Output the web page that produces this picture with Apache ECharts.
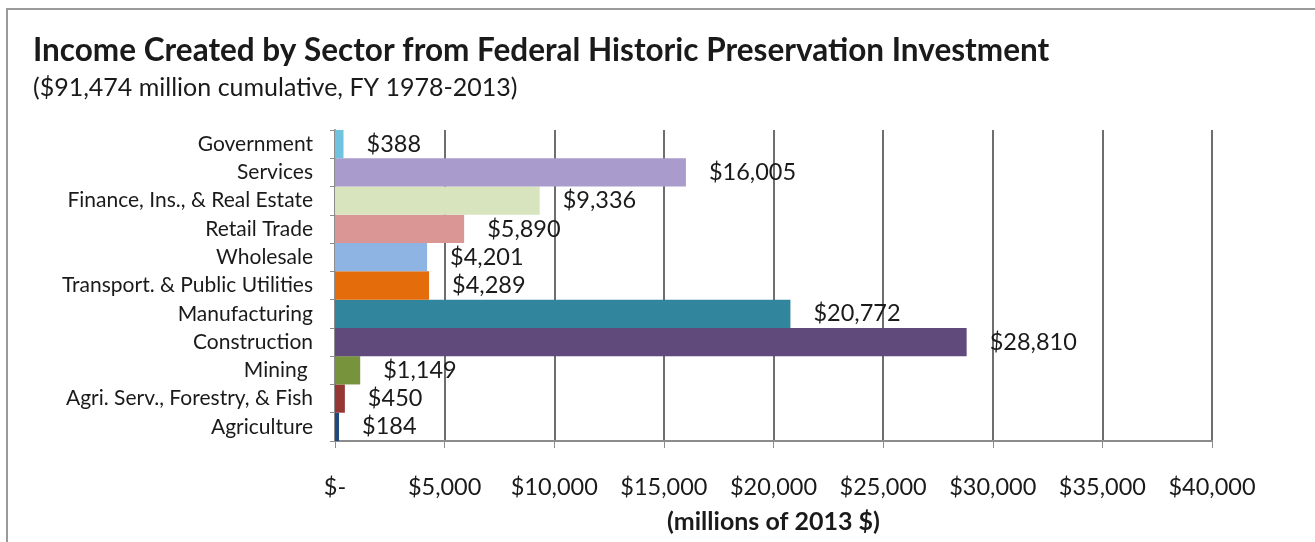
<!DOCTYPE html>
<html><head><meta charset="utf-8">
<script src="https://cdn.jsdelivr.net/npm/echarts@6/dist/echarts.min.js"></script>
<style>html,body{margin:0;padding:0;background:#fff}#c{width:1315px;height:542px}</style>
</head><body><div id="c"></div>
<script>
const categories = ["Agriculture","Agri. Serv., Forestry, & Fish","Mining ","Construction","Manufacturing","Transport. & Public Utilities","Wholesale","Retail Trade","Finance, Ins., & Real Estate","Services","Government"];
const values = [184, 450, 1149, 28810, 20772, 4289, 4201, 5890, 9336, 16005, 388];
const colors = ["#1f497d","#953735","#77933c","#604a7b","#31859c","#e46c0a","#8eb4e3","#d99694","#d7e4bd","#a99bcb","#6fc3df"];
const xTicks = {min: 0, max: 40000, interval: 5000};
const titleText = "Income Created by Sector from Federal Historic Preservation Investment";
const subtitleText = "($91,474 million cumulative, FY 1978-2013)";
const axisNameText = "(millions of 2013 $)";

const FONT = "Lato";
const chart = echarts.init(document.getElementById('c'));
const fmt = v => v === 0 ? '$-' : '$' + v.toLocaleString('en-US');
chart.setOption({
  animation: false,
  textStyle: {fontFamily: FONT},
  graphic: [
    {type: 'rect', shape: {x: 7, y: 9, width: 1340, height: 560}, style: {fill: 'none', stroke: '#9a9a9a', lineWidth: 2}},
    {type: 'text', left: 33, top: 35, style: {text: titleText, font: 'bold 31.5px ' + FONT, fill: '#1a1a1a'}},
    {type: 'text', left: 33, top: 75, style: {text: subtitleText, font: '25px ' + FONT, fill: '#1a1a1a'}}
  ],
  grid: {left: 335, right: 103, top: 130, bottom: 101, containLabel: false},
  xAxis: {
    type: 'value', min: xTicks.min, max: xTicks.max, interval: xTicks.interval,
    name: axisNameText, nameLocation: 'middle', nameGap: 68,
    nameTextStyle: {fontSize: 25, fontWeight: 'bold', color: '#1a1a1a', fontFamily: FONT},
    axisLine: {show: true, lineStyle: {color: '#8c8c8c', width: 2}},
    axisTick: {show: true, length: 7, lineStyle: {color: '#8c8c8c'}},
    axisLabel: {formatter: fmt, fontSize: 23.5, color: '#1a1a1a', margin: 34},
    splitLine: {show: true, lineStyle: {color: '#6e6e6e', width: 2}}
  },
  yAxis: {
    type: 'category', data: categories,
    axisLine: {show: true, lineStyle: {color: '#8c8c8c', width: 2}},
    axisTick: {show: true, length: 5, lineStyle: {color: '#8c8c8c'}},
    axisLabel: {fontSize: 21, color: '#1a1a1a', margin: 22}
  },
  series: [{
    type: 'bar', barCategoryGap: '0%',
    data: values.map((v, i) => ({value: v, itemStyle: {color: colors[i]}})),
    label: {show: true, position: 'right', distance: 23, formatter: p => fmt(p.value), fontSize: 23.5, color: '#1a1a1a'}
  }]
});
</script></body></html>
